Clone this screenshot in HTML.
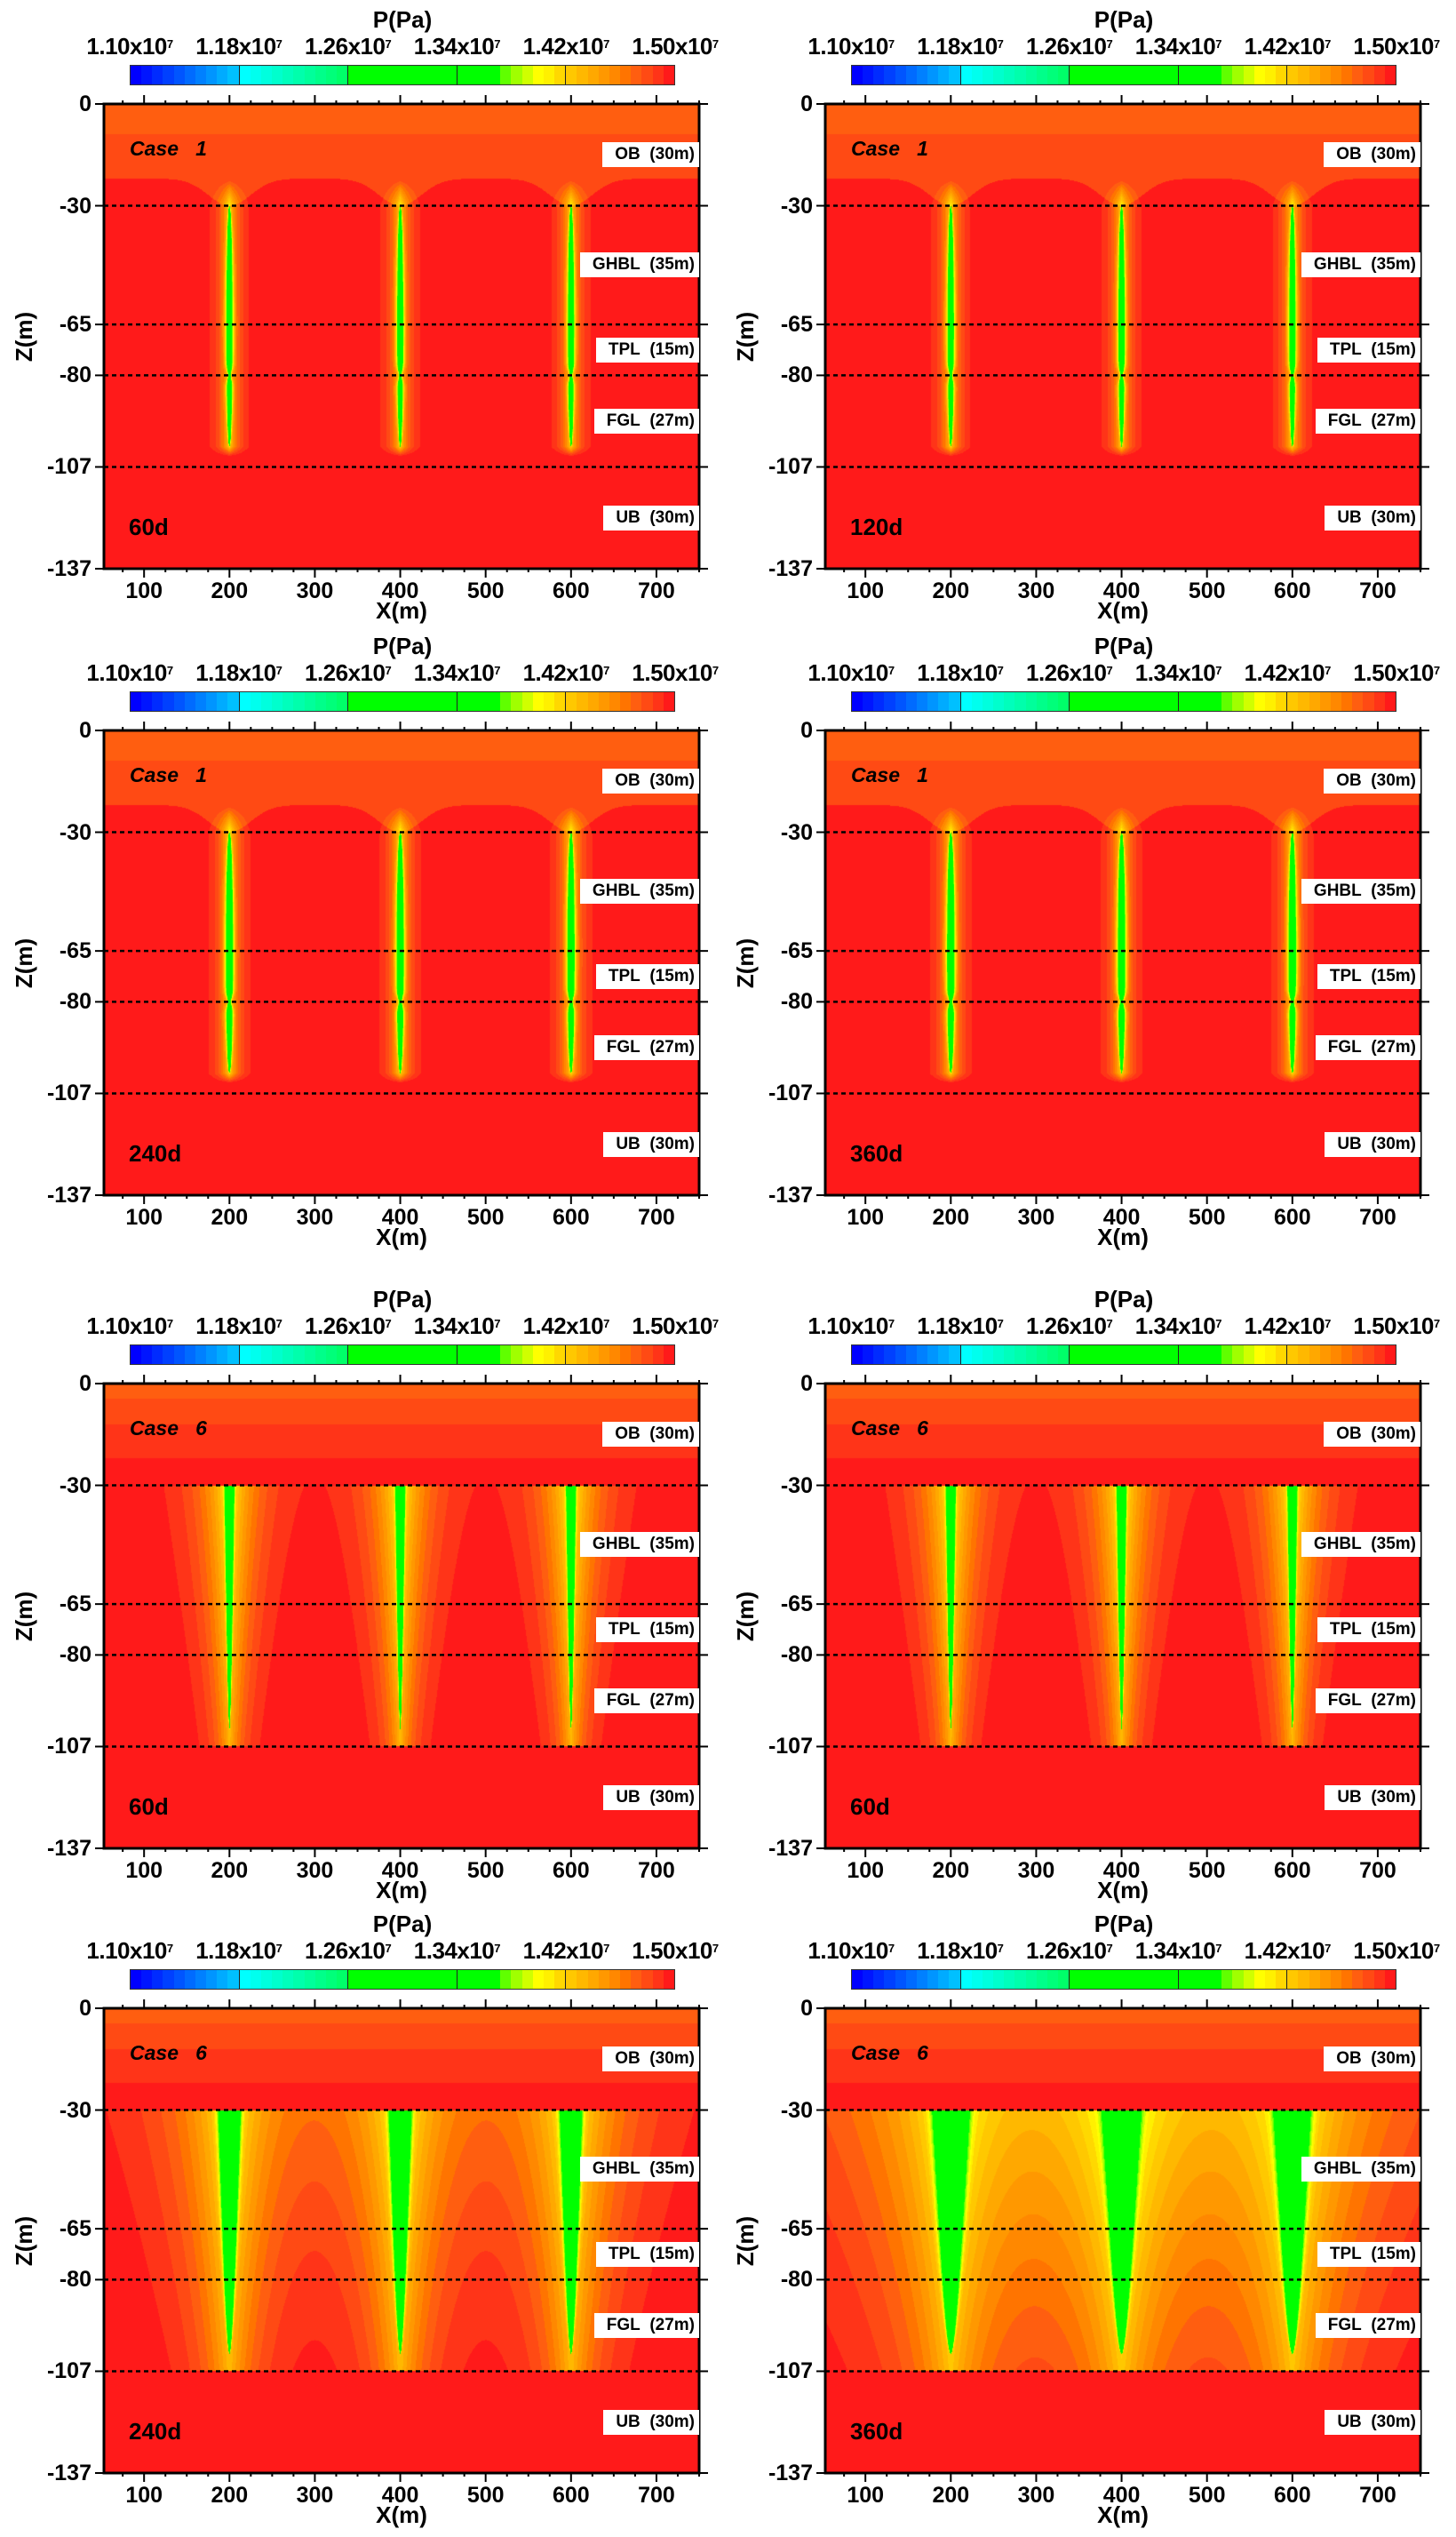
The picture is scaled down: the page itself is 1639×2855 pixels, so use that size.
<!DOCTYPE html>
<html><head><meta charset="utf-8">
<style>
body{margin:0;background:#fff;width:1639px;height:2855px;position:relative;overflow:hidden;font-family:"Liberation Sans",sans-serif;font-weight:bold;color:#000}
.a{position:absolute}
.lbl{position:absolute;white-space:nowrap}
</style></head>
<body>
<script>
// ---------- data ----------
const colLeft = [117, 929];
const rowTop = [117, 822, 1557, 2260];
const panelCase = [1,1,1,1,6,6,6,6];
const panelDay = ['60d','120d','240d','360d','60d','60d','240d','360d'];
const coreAmp = [15,15,16,16,12,12,12,12];
const coreWidth = [4.5,4.6,5,5.2,6,6,14,22];
const haloAmp = [10,10,10.5,10.5,13,13,10.6,8.5];
const haloLen = [10,10,10.5,10.5,30,30,60,120];
const midAmp = [0,0,0,0,0,0,3,6];
const midLen = [1,1,1,1,1,1,25,30];
const wellX = [200, 400, 600];
const layerDepths = [0, 30, 65, 80, 107, 137];
const layerNames = ['OB','GHBL','TPL','FGL','UB'];
const xTicks = [100,200,300,400,500,600,700];
const yTickLabels = ['0','-30','-65','-80','-107','-137'];
const cbarLabels = ['1.10','1.18','1.26','1.34','1.42','1.50'];
const X0 = 53, X1 = 750, ZMAX = 137;
const PW = 670, PH = 523;
const bandColors = (function(){
  const c=[];
  for(let i=0;i<10;i++){c.push([0,Math.round(i*192/9),255]);}
  for(let i=0;i<10;i++){c.push([0,255,Math.round(255-i*150/9)]);}
  for(let i=0;i<14;i++){c.push([0,255,0]);}
  [[96,255,0],[160,255,0],[208,255,0],[255,255,0],[255,240,0],[255,216,0],
   [255,200,0],[255,184,0],[255,168,0],[255,152,0],[255,136,0],[255,116,0],
   [255,94,16],[255,74,20],[255,52,24],[255,26,26]].forEach(v=>c.push(v));
  return c;
})();

function sx(x){return (x-X0)/(X1-X0)*PW;}
function sy(d){return d/ZMAX*PH;}

function kAt(p,x,d){
  const cs=panelCase[p];
  let k=0;
  let mindx=1e9; for(const w of wellX){mindx=Math.min(mindx,Math.abs(x-w));}
  if(cs===1){
    const b2=22+8*Math.exp(-Math.pow(mindx/35,2));
    if(d<9)k=3;else if(d<b2)k=2;
    for(const w of wellX){
      const dx=Math.abs(x-w);
      if(d>30&&d<101){
        const t=(d-30)/71;
        let s=Math.pow(Math.sin(Math.PI*t),0.5)*(1-0.6*Math.exp(-Math.pow((d-80)/2,2)));
        const wc=coreWidth[p]*s;
        if(wc>0.05)k+=coreAmp[p]*Math.exp(-Math.pow(dx/wc,2));
      }
      let tap=0;
      if(d>=22&&d<30)tap=(d-22)/8;else if(d>=30&&d<101)tap=1;else if(d>=101&&d<104)tap=(104-d)/3;
      k+=haloAmp[p]*tap*Math.exp(-dx/haloLen[p]);
    }
  }else{
    if(d<4.5)k=3;else if(d<12)k=2;else if(d<22)k=1;
    if(d>=30&&d<=107){
      const t=(d-30)/72;
      const u=(d-30)/77;
      for(const w of wellX){
        const dx=Math.abs(x-w);
        if(t<1){const wc=coreWidth[p]*Math.pow(1-t,0.6);k+=coreAmp[p]*Math.exp(-Math.pow(dx/wc,4));}
        const L=haloLen[p]*(1-0.45*u), B=haloAmp[p]*(1-0.35*u);
        k+=B*Math.exp(-dx/L);
        k+=midAmp[p]*(1-0.4*u)*Math.exp(-dx/midLen[p]);
      }
    }
  }
  return k;
}

function mk(tag,cls,parent){const e=document.createElement(tag);if(cls)e.className=cls;(parent||document.body).appendChild(e);return e;}

for(let p=0;p<8;p++){
  const L=colLeft[p%2], T=rowTop[Math.floor(p/2)];
  const cb=mk('div','a');
  
  
  cb.style.cssText=`left:${L+29}px;top:${T-44}px;width:614px;height:23px;border:1px solid #333;box-sizing:border-box;display:flex;`;
  bandColors.forEach((c,i)=>{const s=mk('div','',cb);s.style.cssText=`flex:1;background:rgb(${c[0]},${c[1]},${c[2]});`+((i%10===0&&i>0)?'border-left:1.5px solid #222;':'');});
  const ct=mk('div','lbl');
  
  
  ct.textContent='P(Pa)';
  ct.style.cssText=`left:${L+29+307-60}px;width:120px;text-align:center;top:${T-110}px;font-size:26px;line-height:30px;`;
  cbarLabels.forEach((v,i)=>{
    const e=mk('div','lbl');
    
    
    e.innerHTML=v+'x10<sup style="font-size:13px;vertical-align:top;position:relative;top:-2px">7</sup>';
    e.style.cssText=`left:${L+29+i*122.8-70}px;width:140px;text-align:center;top:${T-80}px;font-size:26px;line-height:30px;letter-spacing:-0.5px;`;
  });
  const cv=mk('canvas','a');
  
  
  cv.width=PW;cv.height=PH;cv.style.left=L+'px';cv.style.top=T+'px';
  const ctx=cv.getContext('2d');const im=ctx.createImageData(PW,PH);
  for(let py=0;py<PH;py++){const d=(py+0.5)/PH*ZMAX;
    for(let px=0;px<PW;px++){const x=X0+(px+0.5)/PW*(X1-X0);
      let b=49-Math.floor(kAt(p,x,d));if(b<0)b=0;if(b>49)b=49;
      const c=bandColors[b];const o=(py*PW+px)*4;im.data[o]=c[0];im.data[o+1]=c[1];im.data[o+2]=c[2];im.data[o+3]=255;}}
  ctx.putImageData(im,0,0);
  const ns='http://www.w3.org/2000/svg';
  const sv=document.createElementNS(ns,'svg');
  
  
  sv.setAttribute('width',PW+40);sv.setAttribute('height',PH+40);
  sv.style.cssText=`position:absolute;left:${L-20}px;top:${T-20}px;overflow:visible`;
  document.body.appendChild(sv);
  function ln(x1,y1,x2,y2,w,dash,name){const l=document.createElementNS(ns,'line');
    
    
    l.setAttribute('x1',x1+20);l.setAttribute('y1',y1+20);l.setAttribute('x2',x2+20);l.setAttribute('y2',y2+20);
    l.setAttribute('stroke','#000');l.setAttribute('stroke-width',w);if(dash)l.setAttribute('stroke-dasharray',dash);sv.appendChild(l);}
  layerDepths.slice(1,5).forEach(d=>ln(0,sy(d),PW,sy(d),2.5,'5 4','layer-boundary'));
  ln(0,0,0,PH,3,null,'y-axis-line');ln(PW,0,PW,PH,3,null,'right-axis-line');
  ln(-1.5,0,PW+1.5,0,3,null,'top-axis-line');ln(-1.5,PH,PW+1.5,PH,3,null,'x-axis-line');
  for(let x=75;x<=750;x+=25){const X=sx(x);const maj=x%100===0;
    ln(X,0,X,maj?-10:-4,2,null,'x-tick');ln(X,PH,X,PH+(maj?10:4),2,null,'x-tick');}
  layerDepths.forEach(d=>{ln(0,sy(d),-10,sy(d),2,null,'y-tick');ln(PW,sy(d),PW+10,sy(d),2,null,'y-tick');});
  xTicks.forEach(x=>{const e=mk('div','lbl');
    
    
    e.textContent=x;e.style.cssText=`left:${L+sx(x)-40}px;width:80px;text-align:center;top:${T+PH+10}px;font-size:25px;line-height:30px;`;});
  layerDepths.forEach((d,i)=>{const e=mk('div','lbl');
    
    
    e.textContent=yTickLabels[i];e.style.cssText=`left:${L-100}px;width:86px;text-align:right;top:${T+sy(d)-15}px;font-size:25px;line-height:30px;`;});
  const xt=mk('div','lbl');
  
  
  xt.textContent='X(m)';xt.style.cssText=`left:${L+PW/2-60}px;width:120px;text-align:center;top:${T+PH+33}px;font-size:26px;line-height:28px;`;
  const yt=mk('div','lbl');
  
  
  yt.textContent='Z(m)';yt.style.cssText=`left:${L-150}px;width:120px;text-align:center;top:${T+PH/2-15}px;font-size:26px;line-height:30px;transform:rotate(-90deg);`;
  layerNames.forEach((n,i)=>{const e=mk('div','lbl');
    
    
    const th=layerDepths[i+1]-layerDepths[i];
    e.innerHTML=n+'&nbsp;&nbsp;('+th+'m)';
    const c=sy((layerDepths[i]+layerDepths[i+1])/2);
    e.style.cssText=`right:${1639-(L+PW)}px;top:${T+c-14}px;height:28px;line-height:28px;padding:0 5px 0 14px;background:#fff;font-size:19px;`;});
  const cs=mk('div','lbl');
  
  
  cs.innerHTML='Case&nbsp;&nbsp;&nbsp;'+panelCase[p];cs.style.cssText=`left:${L+29}px;top:${T+35}px;font-size:23px;line-height:30px;font-style:italic;`;
  const dy=mk('div','lbl');
  
  
  dy.textContent=panelDay[p];dy.style.cssText=`left:${L+28}px;top:${T+461}px;font-size:26px;line-height:30px;`;
}
</script>
</body></html>
